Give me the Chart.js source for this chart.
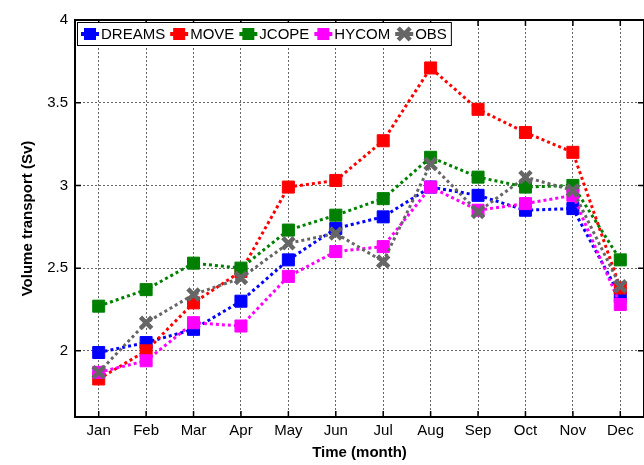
<!DOCTYPE html>
<html><head><meta charset="utf-8">
<script src="https://cdn.jsdelivr.net/npm/chart.js@4.4.0/dist/chart.umd.min.js"></script>
<style>html,body{margin:0;padding:0;background:#fff;overflow:hidden;} #wrap{width:644px;height:465px;}</style>
</head><body><div id="wrap"><canvas id="c" width="644" height="465"></canvas></div>
<script>
const months = ['Jan','Feb','Mar','Apr','May','Jun','Jul','Aug','Sep','Oct','Nov','Dec'];
const dreams = [1.99, 2.05, 2.13, 2.30, 2.55, 2.74, 2.81, 2.99, 2.94, 2.85, 2.86, 2.33];
const move   = [1.83, 2.00, 2.29, 2.48, 2.99, 3.03, 3.27, 3.71, 3.46, 3.32, 3.20, 2.38];
const jcope  = [2.27, 2.37, 2.53, 2.50, 2.73, 2.82, 2.92, 3.17, 3.05, 2.99, 3.00, 2.55];
const hycom  = [1.87, 1.94, 2.17, 2.15, 2.45, 2.60, 2.63, 2.99, 2.85, 2.89, 2.94, 2.28];
const obs    = [1.87, 2.17, 2.34, 2.44, 2.65, 2.71, 2.54, 3.13, 2.84, 3.05, 2.97, 2.39];
const yTicks = [2, 2.5, 3, 3.5, 4];
const yMin = 1.6, yMax = 4;

const FONT = "'Liberation Sans', Arial, Helvetica, sans-serif";

function ds(label, data, color, style, order) {
  return {
    label, data, order,
    borderColor: color, backgroundColor: color,
    borderWidth: 3, borderDash: [3, 3], borderCapStyle: 'butt',
    pointStyle: style, pointRadius: style === 'crossRot' ? 8 : 8.5,
    pointBorderWidth: style === 'crossRot' ? 4.5 : 1,
    pointBorderColor: color, pointBackgroundColor: color,
    tension: 0, fill: false, clip: false
  };
}

const framePlugin = {
  id: 'frame',
  afterDraw(chart) {
    const {ctx, chartArea: a, scales} = chart;
    ctx.save();
    ctx.strokeStyle = '#000';
    ctx.lineWidth = 1.5;
    ctx.beginPath();
    months.forEach((m, i) => {
      const px = scales.x.getPixelForValue(i);
      ctx.moveTo(px, a.bottom); ctx.lineTo(px, a.bottom - 6);
      ctx.moveTo(px, a.top); ctx.lineTo(px, a.top + 6);
    });
    yTicks.forEach(v => {
      const py = scales.y.getPixelForValue(v);
      ctx.moveTo(a.left, py); ctx.lineTo(a.left + 6, py);
      ctx.moveTo(a.right, py); ctx.lineTo(a.right - 6, py);
    });
    ctx.stroke();
    ctx.lineWidth = 2;
    ctx.strokeRect(a.left, a.top, a.right - a.left, a.bottom - a.top);

    // legend
    const lx = 77, ly = 22, lh = 23;
    ctx.font = '15px ' + FONT;
    const items = chart.data.datasets.map(d => ({label: d.label, color: d.borderColor, style: d.pointStyle}));
    let total = 81;
    items.forEach(it => { total += 20 + ctx.measureText(it.label).width + 5; });
    const lw = total - lx - 1;
    ctx.fillStyle = '#fff';
    ctx.fillRect(lx, ly, lw, lh);
    ctx.lineWidth = 1;
    ctx.strokeStyle = '#000';
    ctx.strokeRect(lx + 0.5, ly + 0.5, lw, lh);
    const cy = ly + lh / 2 + 0.5;
    let x = 81;
    items.forEach(it => {
      const cx = x + 9;
      ctx.fillStyle = it.color; ctx.strokeStyle = it.color;
      ctx.lineWidth = 4;
      ctx.beginPath(); ctx.moveTo(x, cy); ctx.lineTo(x + 18, cy); ctx.stroke();
      if (it.style === 'crossRot') {
        ctx.lineWidth = 4.5;
        ctx.beginPath();
        ctx.moveTo(cx - 6, cy - 6); ctx.lineTo(cx + 6, cy + 6);
        ctx.moveTo(cx - 6, cy + 6); ctx.lineTo(cx + 6, cy - 6);
        ctx.stroke();
      } else {
        ctx.fillRect(cx - 6, cy - 6, 12, 12);
      }
      ctx.fillStyle = '#000';
      ctx.textBaseline = 'middle';
      ctx.textAlign = 'left';
      ctx.fillText(it.label, x + 20, cy + 1);
      x += 20 + ctx.measureText(it.label).width + 5;
    });
    ctx.restore();
  }
};

new Chart(document.getElementById('c'), {
  type: 'line',
  data: {
    labels: months,
    datasets: [
      ds('DREAMS', dreams, '#0000ff', 'rect', 5),
      ds('MOVE', move, '#ff0000', 'rect', 4),
      ds('JCOPE', jcope, '#008000', 'rect', 3),
      ds('HYCOM', hycom, '#ff00ff', 'rect', 2),
      ds('OBS', obs, '#666666', 'crossRot', 1)
    ]
  },
  options: {
    responsive: false, animation: false, devicePixelRatio: 1,
    layout: {autoPadding: false, padding: {left: 0, right: -1, top: 20, bottom: 0}},
    plugins: {legend: {display: false}, tooltip: {enabled: false}},
    scales: {
      x: {
        type: 'category', offset: true,
        grid: {display: true, drawTicks: false, color: 'rgba(0,0,0,0.6)', lineWidth: 1, offset: false},
        border: {display: false, dash: [2, 2]},
        ticks: {color: '#000', font: {size: 15, family: FONT}, padding: 5, maxRotation: 0, autoSkip: false},
        title: {display: true, text: 'Time (month)', color: '#000', font: {size: 15, weight: 'bold', family: FONT}, padding: {top: 0, bottom: 3}},
        afterFit(s) { s.height = 48; s.paddingLeft = 0; s.paddingRight = 0; }
      },
      y: {
        min: yMin, max: yMax,
        afterBuildTicks(s) { s.ticks = yTicks.map(v => ({value: v})); },
        grid: {display: true, drawTicks: false, color: 'rgba(0,0,0,0.6)', lineWidth: 1},
        border: {display: false, dash: [2, 2]},
        ticks: {color: '#000', font: {size: 15, family: FONT}, padding: 7, callback: v => String(v)},
        title: {display: true, text: 'Volume transport (Sv)', color: '#000', font: {size: 15, weight: 'bold', family: FONT}, padding: {top: 19, bottom: 0}},
        afterFit(s) { s.width = 75; s.paddingTop = 0; s.paddingBottom = 0; }
      }
    }
  },
  plugins: [framePlugin]
});
</script>
</body></html>
